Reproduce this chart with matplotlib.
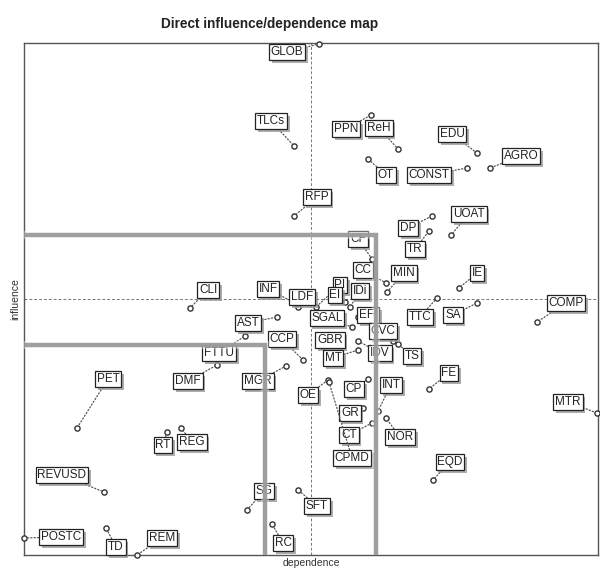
import matplotlib.pyplot as plt
import matplotlib.patheffects as pe

plt.rcParams['font.family'] = ['Liberation Sans', 'DejaVu Sans']

# variables, dependence (x) and influence (y)
names = ['GLOB', 'TLCs', 'PPN', 'ReH', 'EDU', 'AGRO', 'OT', 'CONST', 'RFP', 'DP',
         'UOAT', 'TR', 'CF', 'CC', 'MIN', 'INF', 'LDF', 'PI', 'EI', 'IDi',
         'SGAL', 'EFI', 'CVC', 'TS', 'GBR', 'MT', 'IDV', 'CCP', 'AST', 'FTTU',
         'CLI', 'DMF', 'MGR', 'PET', 'RT', 'REG', 'REVUSD', 'POSTC', 'TD', 'REM',
         'OE', 'CP', 'INT', 'GR', 'CT', 'NOR', 'CPMD', 'EQD', 'SG', 'SFT',
         'RC', 'FE', 'MTR', 'COMP', 'TTC', 'SA', 'IE']
dependence = [295, 270, 347, 374, 453, 466, 344, 443, 270, 408,
              427, 405, 348, 362, 363, 269, 274, 292, 321, 326,
              328, 334, 369, 374, 299, 334, 334, 279, 253, 221,
              166, 193, 262, 53, 143, 157, 80, 0, 82, 113,
              304, 344, 354, 339, 348, 362, 305, 409, 223, 274,
              248, 405, 573, 513, 413, 453, 435]
influence = [511, 409, 440, 406, 402, 387, 396, 387, 339, 339,
             320, 324, 296, 272, 263, 253, 248, 248, 253, 248,
             228, 238, 214, 211, 209, 205, 214, 195, 238, 219,
             247, 190, 189, 127, 123, 127, 63, 17, 27, 0,
             175, 176, 144, 147, 132, 137, 173, 75, 45, 65,
             31, 166, 142, 233, 257, 252, 267]

# label offsets from the point, in pixels (style only)
offsets = [(-32, -8), (-23, 25), (-25, -14), (-19, 21), (-25, 19), (31, 12), (18, -16), (-38, -7), (23, 19), (-24, -12),
           (18, 21), (-14, -18), (-14, 20), (-23, 13), (17, 19), (-25, 13), (4, 10), (24, 22), (-10, 7), (10, 16),
           (-25, 9), (10, 2), (-10, 10), (14, -12), (7, 6), (-25, -8), (22, -12), (-21, 21), (-29, -6), (-26, -17),
           (18, 18), (-29, -16), (-28, -15), (31, 49), (-4, -13), (11, -14), (-42, 17), (37, 1), (10, -19), (25, 17),
           (-20, -15), (-14, -10), (13, 26), (-13, -5), (-23, -12), (14, -19), (23, -76), (17, 18), (17, 19), (19, -16),
           (11, -19), (20, 16), (-29, 11), (29, 19), (-17, -19), (-24, -12), (18, 15)]

mean_dep = 287
mean_inf = 256

fig = plt.figure(figsize=(6, 5.69), dpi=100)
ax = fig.add_axes([24 / 600, 14 / 569, 574 / 600, 512 / 569])
ax.set_xlim(0, 574)
ax.set_ylim(0, 512)
ax.set_xticks([])
ax.set_yticks([])
for s in ax.spines.values():
    s.set_color('#555555')
    s.set_linewidth(1.0)

ax.axvline(mean_dep, color='#777777', lw=0.7, ls=(0, (3, 2)), zorder=1)
ax.axhline(mean_inf, color='#777777', lw=0.7, ls=(0, (3, 2)), zorder=1)

ax.scatter(dependence, influence, s=14, facecolor='white', edgecolor='#333333',
           linewidth=1.0, zorder=3, clip_on=False)

shadow = [pe.SimplePatchShadow(offset=(2, -2), shadow_rgbFace='#999999', alpha=0.8), pe.Normal()]
for n, x, y, (dx, dy) in zip(names, dependence, influence, offsets):
    t = ax.annotate(n, (x, y), xytext=(dx, dy), textcoords='offset pixels',
                    ha='center', va='center', fontsize=8.5, color='#222222', zorder=4,
                    bbox=dict(boxstyle='square,pad=0.15', fc='white', ec='#222222', lw=0.9),
                    arrowprops=dict(arrowstyle='-', ls=':', color='#555555', lw=0.9,
                                    shrinkA=0, shrinkB=2),
                    annotation_clip=False)
    t.get_bbox_patch().set_path_effects(shadow)

# thick grey limit lines, drawn over the labels with a soft white halo
line_fx = [pe.Stroke(linewidth=6, foreground='white', alpha=0.35), pe.Normal()]
ax.plot([3, 352, 352], [320, 320, 2], color='#9a9a9a', lw=3.2, zorder=5, alpha=0.95,
        solid_joinstyle='miter', path_effects=line_fx)
ax.plot([3, 241, 241], [210, 210, 2], color='#9a9a9a', lw=3.2, zorder=5, alpha=0.95,
        solid_joinstyle='miter', path_effects=line_fx)

ax.set_xlabel('dependence', fontsize=7.5, labelpad=2, color='#333333')
ax.set_ylabel('influence', fontsize=7.5, labelpad=3, color='#333333')
fig.text(270 / 600, 1 - 24 / 569, 'Direct influence/dependence map', ha='center', va='center',
         fontsize=9.8, fontweight='bold', color='#222222')

fig.savefig('out.png', dpi=100, facecolor='white')
